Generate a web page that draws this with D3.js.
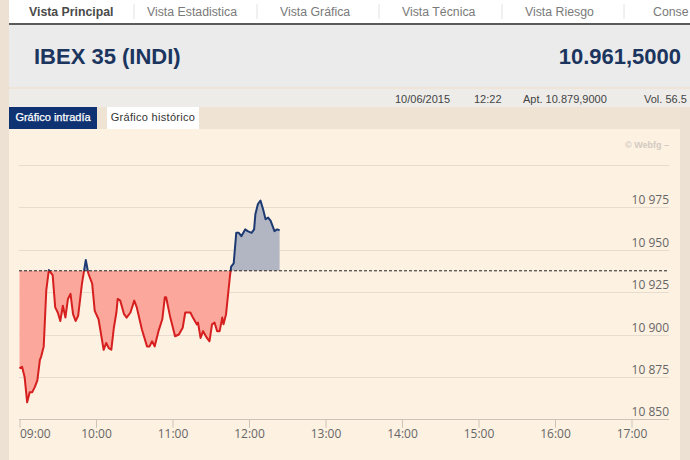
<!DOCTYPE html>
<html>
<head>
<meta charset="utf-8">
<script src="https://cdn.jsdelivr.net/npm/d3@7"></script>
<style>
  html, body { margin: 0; padding: 0; background: #ece1d3; }
  svg { display: block; }
</style>
</head>
<body>
<svg id="chart" width="690" height="460"></svg>
<script>
// ---- data ----
const times = ["09:00","09:02","09:04","09:06","09:08","09:10","09:12","09:14","09:16","09:17","09:19","09:21","09:23","09:26","09:28","09:30","09:32","09:34","09:36","09:38","09:40","09:42","09:44","09:46","09:49","09:52","09:54","09:57","09:59","10:02","10:06","10:08","10:10","10:12","10:14","10:16","10:17","10:19","10:22","10:24","10:27","10:30","10:32","10:36","10:40","10:42","10:44","10:46","10:49","10:52","10:54","10:55","10:58","11:02","11:05","11:08","11:10","11:14","11:16","11:19","11:20","11:22","11:24","11:27","11:29","11:31","11:33","11:35","11:37","11:39","11:40","11:42","11:45","11:46","11:48","11:50","11:52","11:54","11:57","11:59","12:02","12:04","12:05","12:07","12:09","12:11","12:13","12:15","12:17","12:20","12:22","12:24"];
const values = [10880,10881,10875,10860,10866,10866,10869,10873,10885,10887,10893,10926,10938,10935,10916,10913,10908,10917,10910,10921,10924,10912,10908,10911,10930,10944,10936,10930,10914,10909,10891,10895,10892,10891,10904,10913,10921,10920,10912,10910,10913,10920,10916,10903,10893,10893,10896,10893,10902,10909,10922,10922,10911,10899,10900,10904,10913,10913,10910,10906,10907,10898,10902,10898,10896,10906,10907,10902,10902,10910,10906,10912,10934,10940,10942,10960,10960,10958,10962,10961,10960,10962,10971,10977,10979,10974,10968,10969,10967,10961,10962,10961.5];
const refValue = 10937.6;
const yTicks = [10850,10875,10900,10925,10950,10975,11000];
const xTickLabels = ["09:00","10:00","11:00","12:00","13:00","14:00","15:00","16:00","17:00"];
const navItems = ["Vista Principal","Vista Estadistica","Vista Gráfica","Vista Técnica","Vista Riesgo","Conse"];
const title = "IBEX 35 (INDI)";
const lastPrice = "10.961,5000";
const infoTexts = ["10/06/2015","12:22","Apt. 10.879,9000","Vol. 56.5"];
const tabs = ["Gráfico intradía","Gráfico histórico"];

// ---- page frame ----
const svg = d3.select("#chart");
const sans = "'Liberation Sans', Arial, sans-serif";
svg.append("rect").attr("x",0).attr("y",0).attr("width",690).attr("height",460).attr("fill","#ece1d3");
svg.append("rect").attr("x",9).attr("y",0).attr("width",681).attr("height",23).attr("fill","#ffffff");
svg.append("rect").attr("x",9).attr("y",23).attr("width",681).attr("height",2).attr("fill","#5a5a5a");
svg.append("rect").attr("x",9).attr("y",25).attr("width",681).attr("height",62).attr("fill","#ebebeb");
svg.append("rect").attr("x",9).attr("y",87).attr("width",681).attr("height",2).attr("fill","#efe4d7");
svg.append("rect").attr("x",9).attr("y",89).attr("width",681).attr("height",18).attr("fill","#eeece8");
svg.append("rect").attr("x",9).attr("y",107).attr("width",671).attr("height",22).attr("fill","#efe3d4");
svg.append("rect").attr("x",9).attr("y",129).attr("width",671).attr("height",331).attr("fill","#fdf1e2");

// nav
const navX = [29,147,280,402,525,653];
const sepX = [134,257,379,502,624];
navItems.forEach((t,i)=>{
  svg.append("text").attr("x",navX[i]).attr("y",16)
    .attr("font-family",sans).attr("font-size",12.3)
    .attr("font-weight", i===0 ? "bold" : "normal")
    .attr("fill", i===0 ? "#4a4a4a" : "#7a7a7a").text(t);
});
sepX.forEach(x=>{
  svg.append("line").attr("x1",x).attr("x2",x).attr("y1",4).attr("y2",19).attr("stroke","#e2e2e2");
});

// header
svg.append("text").attr("x",34).attr("y",64).attr("font-family",sans).attr("font-size",22)
  .attr("font-weight","bold").attr("fill","#1b355f").text(title);
svg.append("text").attr("x",681).attr("y",64).attr("text-anchor","end").attr("font-family",sans).attr("font-size",22)
  .attr("font-weight","bold").attr("fill","#1b355f").text(lastPrice);

// info row
const infoX = [395,474,523,644];
infoTexts.forEach((t,i)=>{
  svg.append("text").attr("x",infoX[i]).attr("y",103).attr("font-family",sans).attr("font-size",11)
    .attr("fill","#444").text(t);
});

// tabs
svg.append("rect").attr("x",9).attr("y",107).attr("width",88).attr("height",22).attr("fill","#0f3372");
svg.append("rect").attr("x",107).attr("y",107).attr("width",92).attr("height",22).attr("fill","#ffffff");
svg.append("text").attr("x",53).attr("y",121).attr("text-anchor","middle").attr("font-family",sans)
  .attr("font-size",11).attr("fill","#ffffff").attr("stroke","#ffffff").attr("stroke-width",0.25).text(tabs[0]);
svg.append("text").attr("x",153).attr("y",121).attr("text-anchor","middle").attr("font-family",sans)
  .attr("font-size",11).attr("fill","#333").attr("letter-spacing",0.3).text(tabs[1]);

// watermark
svg.append("text").attr("x",669).attr("y",148).attr("text-anchor","end").attr("font-family",sans)
  .attr("font-size",9).attr("font-weight","bold").attr("fill","#d3cbc1").text("© Webfg –");

// ---- chart ----
const parse = d3.timeParse("%H:%M");
const data = times.map((t,i)=>({t: parse(t), v: values[i]}));
const x = d3.scaleTime().domain([parse("09:00"), parse("17:00")]).range([19.5, 631.5]);
const y = d3.scaleLinear().domain([10850, 11000]).range([419.3, 165]);
const gridL = 19, gridR = 669;
const chartFont = "'Open Sans', 'DejaVu Sans', sans-serif";

// gridlines
svg.append("g").selectAll("line").data(yTicks).join("line")
  .attr("x1",gridL).attr("x2",gridR)
  .attr("y1",d=>Math.round(y(d))+0.5).attr("y2",d=>Math.round(y(d))+0.5)
  .attr("stroke", d=> d===10850 ? "#cdc4b9" : "#e6dccf").attr("stroke-width",1);

// y labels
const fmt = d => d3.format(",")(d).replace(/,/g," ");
svg.append("g").selectAll("text").data(yTicks.filter(d=>d!==11000)).join("text")
  .attr("x",gridR).attr("y",d=>y(d)-3).attr("text-anchor","end")
  .attr("font-family",chartFont).attr("font-size",12).attr("fill","#666").text(fmt);

// x axis
const xAxis = d3.axisBottom(x).tickValues(xTickLabels.map(parse))
  .tickFormat(d3.timeFormat("%H:%M")).tickSize(8).tickPadding(2);
const gx = svg.append("g").attr("transform","translate(0,419.8)").call(xAxis);
gx.select(".domain").remove();
gx.selectAll(".tick line").attr("stroke","#cdc4b9");
gx.selectAll(".tick text").attr("font-family",chartFont).attr("font-size",12).attr("fill","#666");
gx.selectAll(".tick text").filter((d,i)=>i===0).attr("text-anchor","start").attr("x",0);

// clip paths
const yRef = y(refValue);
const defs = svg.append("defs");
defs.append("clipPath").attr("id","above").append("rect").attr("x",0).attr("y",0).attr("width",690).attr("height",yRef);
defs.append("clipPath").attr("id","below").append("rect").attr("x",0).attr("y",yRef).attr("width",690).attr("height",460-yRef);

const area = d3.area().x(d=>x(d.t)).y0(yRef).y1(d=>y(d.v));
const line = d3.line().x(d=>x(d.t)).y(d=>y(d.v));

svg.append("path").datum(data).attr("d",area).attr("fill","#fba79c").attr("clip-path","url(#below)");
svg.append("path").datum(data).attr("d",area).attr("fill","#b2b6c3").attr("clip-path","url(#above)");
svg.append("path").datum(data).attr("d",line).attr("fill","none").attr("stroke","#d61f1f")
  .attr("stroke-width",2).attr("stroke-linejoin","round").attr("clip-path","url(#below)");
svg.append("path").datum(data).attr("d",line).attr("fill","none").attr("stroke","#1d3a72")
  .attr("stroke-width",2).attr("stroke-linejoin","round").attr("clip-path","url(#above)");

// reference dashed line
svg.append("line").attr("x1",gridL).attr("x2",gridR).attr("y1",yRef).attr("y2",yRef)
  .attr("stroke","#222").attr("stroke-width",1).attr("stroke-dasharray","3,2");
</script>
</body>
</html>
